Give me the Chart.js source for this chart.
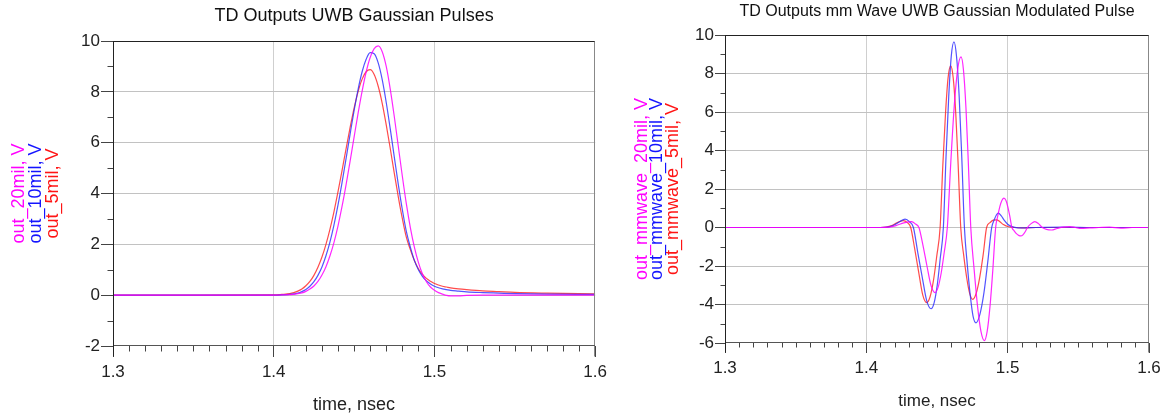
<!DOCTYPE html>
<html>
<head>
<meta charset="utf-8">
<script src="https://cdn.jsdelivr.net/npm/chart.js@4/dist/chart.umd.min.js"></script>
<style>
  html, body { margin: 0; padding: 0; background: #fff; }
  #wrap { position: relative; width: 1167px; height: 416px; overflow: hidden; background: #fff; }
  canvas { position: absolute; top: 0; }
  #pulse { left: 0; }
  #wave { left: 612px; }
</style>
</head>
<body>
<div id="wrap">
  <canvas id="pulse" width="612" height="416"></canvas>
  <canvas id="wave" width="555" height="416"></canvas>
</div>
<script>
// ---------- axes ----------
const timeTicks = [1.3, 1.4, 1.5, 1.6];
const pulseVoltTicks = [-2, 0, 2, 4, 6, 8, 10];
const waveVoltTicks = [-6, -4, -2, 0, 2, 4, 6, 8, 10];

// ---------- UWB Gaussian pulses (time in nsec, volts) ----------
const pulseTime = [1.30, 1.35, 1.40, 1.405, 1.41, 1.4125, 1.415, 1.4175, 1.42, 1.4225, 1.425, 1.4275,
  1.43, 1.4325, 1.435, 1.4375, 1.44, 1.4425, 1.445, 1.4475, 1.45, 1.4525, 1.455, 1.4575,
  1.46, 1.4625, 1.465, 1.4675, 1.47, 1.4725, 1.475, 1.4775, 1.48, 1.4825, 1.485, 1.4875,
  1.49, 1.4925, 1.495, 1.4975, 1.50, 1.5025, 1.505, 1.5075, 1.51, 1.515, 1.52, 1.53,
  1.54, 1.55, 1.57, 1.60];
const out20mil = [0, 0, 0, 0.01, 0.02, 0.03, 0.06, 0.09, 0.15, 0.24, 0.36, 0.54,
  0.79, 1.12, 1.55, 2.08, 2.73, 3.49, 4.34, 5.26, 6.22, 7.16, 8.03, 8.78,
  9.35, 9.70, 9.81, 9.58, 9.00, 8.11, 7.03, 5.86, 4.69, 3.60, 2.66, 1.89,
  1.29, 0.84, 0.53, 0.32, 0.19, 0.10, 0.04, -0.01, -0.03, -0.03, -0.01, 0,
  0, 0, 0, 0];
const out10mil = [0, 0, 0, 0.01, 0.03, 0.05, 0.08, 0.14, 0.22, 0.35, 0.53, 0.78,
  1.11, 1.55, 2.10, 2.77, 3.55, 4.43, 5.37, 6.33, 7.26, 8.10, 8.79, 9.28,
  9.54, 9.50, 9.14, 8.48, 7.58, 6.54, 5.44, 4.36, 3.37, 2.51, 1.89, 1.37,
  1.00, 0.74, 0.56, 0.44, 0.35, 0.29, 0.25, 0.22, 0.19, 0.16, 0.13, 0.10,
  0.08, 0.06, 0.04, 0.03];
const out5mil = [0, 0, 0.01, 0.03, 0.06, 0.10, 0.16, 0.24, 0.37, 0.54, 0.78, 1.10,
  1.50, 2.00, 2.60, 3.29, 4.07, 4.90, 5.76, 6.59, 7.36, 8.01, 8.50, 8.79,
  8.87, 8.68, 8.22, 7.55, 6.70, 5.77, 4.80, 3.87, 3.02, 2.28, 1.79, 1.36,
  1.04, 0.82, 0.66, 0.55, 0.46, 0.40, 0.35, 0.32, 0.29, 0.25, 0.22, 0.17,
  0.14, 0.11, 0.08, 0.05];

// ---------- mm-wave UWB Gaussian modulated pulses ----------
const waveTime20 = [1.30, 1.40, 1.41, 1.416, 1.421, 1.4265, 1.4321, 1.4348, 1.4372,
  1.4400, 1.4429, 1.4457, 1.4486, 1.4508, 1.4530, 1.4551, 1.4573,
  1.4597, 1.4621, 1.4646, 1.4670, 1.4687, 1.4705, 1.4722, 1.4739,
  1.4763, 1.4787, 1.4811, 1.4835, 1.4855, 1.4875, 1.4895, 1.4915,
  1.4930, 1.4945, 1.4960, 1.4974, 1.4988, 1.5002, 1.5016, 1.5030,
  1.5046, 1.5062, 1.5078, 1.5093, 1.5108, 1.5124, 1.5140,
  1.5166, 1.5192, 1.5218, 1.5245, 1.5275, 1.5310, 1.5350, 1.5390,
  1.5440, 1.5480, 1.5520, 1.5580, 1.5645, 1.5720, 1.5800, 1.5880, 1.60];
const outMm20mil = [0, 0, 0, 0.02, 0.1, 0.24, 0.31, 0.18, 0,
  -0.9, -2.0, -3.0, -3.38, -3.1, -2.35, -1.3, 0,
  3.3, 6.2, 8.2, 8.86, 8.2, 6.2, 3.3, 0,
  -2.2, -4.1, -5.4, -5.88, -5.4, -4.1, -2.2, 0,
  0.6, 1.1, 1.42, 1.53, 1.4, 1.05, 0.55, 0,
  -0.17, -0.32, -0.41, -0.44, -0.38, -0.22, 0,
  0.2, 0.31, 0.2, 0, -0.1, -0.13, -0.05, 0.02,
  0.05, 0, -0.05, -0.02, 0, 0.02, -0.03, 0, 0];

const waveTime10 = [1.30, 1.40, 1.41, 1.415, 1.419, 1.4235, 1.4274, 1.4305, 1.4333,
  1.4364, 1.4396, 1.4427, 1.4458, 1.4480, 1.4502, 1.4523, 1.4545,
  1.4564, 1.4583, 1.4601, 1.4620, 1.4638, 1.4657, 1.4675, 1.4694,
  1.4714, 1.4735, 1.4755, 1.4776, 1.4804, 1.4832, 1.4859, 1.4887,
  1.4905, 1.4920, 1.4934, 1.4955, 1.4975, 1.50, 1.5025, 1.505,
  1.51, 1.52, 1.54, 1.56, 1.60];
const outMm10mil = [0, 0, 0, 0.02, 0.1, 0.3, 0.43, 0.3, 0,
  -1.3, -2.6, -3.8, -4.22, -3.9, -2.98, -1.6, 0,
  3.7, 6.8, 8.9, 9.64, 8.9, 6.8, 3.7, 0,
  -1.9, -3.5, -4.6, -4.95, -4.5, -3.4, -1.8, 0,
  0.4, 0.65, 0.75, 0.6, 0.38, 0.17, 0.06, 0.01,
  -0.02, 0, 0.02, 0, 0];

const waveTime5 = [1.30, 1.40, 1.41, 1.414, 1.418, 1.422, 1.4262, 1.4290, 1.4314,
  1.4342, 1.4370, 1.4399, 1.4427, 1.4451, 1.4475, 1.4498, 1.4522,
  1.4541, 1.4560, 1.4578, 1.4597, 1.4615, 1.4633, 1.4650, 1.4668,
  1.4689, 1.4711, 1.4732, 1.4753, 1.4778, 1.4802, 1.4827, 1.4851,
  1.4875, 1.4898, 1.4922, 1.4945, 1.4970, 1.50, 1.505, 1.51, 1.52, 1.60];
const outMm5mil = [0, 0, 0, 0.02, 0.1, 0.26, 0.36, 0.25, 0,
  -1.1, -2.3, -3.5, -3.9, -3.6, -2.75, -1.5, 0,
  3.2, 5.9, 7.75, 8.4, 7.75, 5.9, 3.2, 0,
  -1.45, -2.65, -3.45, -3.73, -3.4, -2.6, -1.4, 0,
  0.25, 0.38, 0.4, 0.3, 0.15, 0.05, 0, -0.02, 0, 0];

// ---------- colours ----------
const MAGENTA = 'rgba(255, 0, 255, 0.85)';
const BLUE = 'rgba(40, 40, 255, 0.8)';
const RED = 'rgba(255, 30, 30, 0.8)';
const FONT = "'Liberation Sans', Arial, sans-serif";

const pts = (xs, ys) => xs.map((x, i) => ({ x: x, y: ys[i] }));

// Frame, minor ticks, title and the stacked coloured y-axis labels
const decorPlugin = {
  id: 'decor',
  afterDraw(chart, args, o) {
    const ctx = chart.ctx;
    const a = chart.chartArea;
    const xs = chart.scales.x, ys = chart.scales.y;
    const L = Math.round(a.left) + 0.5, R = Math.round(a.right) - 0.5;
    const T = Math.round(a.top) + 0.5, B = Math.round(a.bottom) - 0.5;
    ctx.save();
    ctx.lineWidth = 1;
    // minor x ticks every 0.01 nsec
    ctx.strokeStyle = '#444';
    for (let k = 1; k < 30; k++) {
      if (k % 10 === 0) continue;
      const px = Math.round(xs.getPixelForValue(1.3 + k * 0.01)) + 0.5;
      ctx.beginPath(); ctx.moveTo(px, B); ctx.lineTo(px, B + o.minorLen); ctx.stroke();
    }
    // minor y ticks on odd volts
    for (let v = ys.min + 1; v < ys.max; v += 2) {
      const py = Math.round(ys.getPixelForValue(v)) + 0.5;
      ctx.beginPath(); ctx.moveTo(L - o.minorLen, py); ctx.lineTo(L, py); ctx.stroke();
    }
    // frame
    const seg = (x1, y1, x2, y2, c) => { ctx.strokeStyle = c; ctx.beginPath(); ctx.moveTo(x1, y1); ctx.lineTo(x2, y2); ctx.stroke(); };
    seg(L - 0.5, T, R + 0.5, T, '#222');
    seg(R, T, R, B + o.majorLen, '#888');
    seg(L - 0.5, B, R + 0.5, B, '#555');
    seg(L, T - 0.5, L, B + o.majorLen, '#222');
    // title
    ctx.fillStyle = '#111';
    ctx.font = o.titleSize + 'px ' + FONT;
    ctx.textAlign = 'center';
    ctx.textBaseline = 'middle';
    ctx.fillText(o.title, (a.left + a.right) / 2, o.titleY);
    // stacked y-axis labels
    ctx.font = o.yLabelSize + 'px ' + FONT;
    const yc = (a.top + a.bottom) / 2;
    o.yLabels.forEach((lab, i) => {
      ctx.save();
      ctx.translate(o.yLabelX[i], yc);
      ctx.rotate(-Math.PI / 2);
      ctx.fillStyle = lab.color;
      ctx.fillText(lab.text, 0, 0);
      ctx.restore();
    });
    ctx.restore();
  }
};

function makeChart(canvasId, cfg) {
  const gridColor = (c) => (c.tick && (c.tick.value === cfg.yMin || c.tick.value === cfg.yMax)) ? 'rgba(0,0,0,0)' : '#c2c2c2';
  const xGridColor = (c) => (c.tick && (Math.abs(c.tick.value - 1.3) < 1e-6 || Math.abs(c.tick.value - 1.6) < 1e-6)) ? 'rgba(0,0,0,0)' : '#cfcfcf';
  return new Chart(document.getElementById(canvasId), {
    type: 'line',
    data: { datasets: cfg.datasets.map(d => ({
      data: d.data,
      borderColor: d.color,
      borderWidth: 1.2,
      pointRadius: 0,
      fill: false,
      cubicInterpolationMode: 'monotone'
    })) },
    options: {
      responsive: false,
      animation: false,
      devicePixelRatio: 1,
      events: [],
      layout: { padding: { top: cfg.top, right: cfg.right, left: 0, bottom: 0 } },
      plugins: {
        legend: { display: false },
        tooltip: { enabled: false },
        decor: cfg.decor
      },
      scales: {
        x: {
          type: 'linear',
          min: 1.3, max: 1.6,
          afterBuildTicks: s => { s.ticks = timeTicks.map(v => ({ value: v })); },
          afterFit: s => { s.height = cfg.xHeight; },
          border: { display: false },
          grid: { color: xGridColor, lineWidth: 1, tickLength: cfg.xTickLen, tickColor: '#444' },
          ticks: { autoSkip: false, maxRotation: 0, padding: cfg.xTickPad, color: '#222',
                   font: { family: FONT, size: cfg.tickSize }, callback: v => Number(v).toFixed(1) },
          title: { display: true, text: 'time, nsec', color: '#222',
                   font: { family: FONT, size: cfg.xTitleSize }, padding: { top: 0, bottom: cfg.xTitlePad } }
        },
        y: {
          type: 'linear',
          min: cfg.yMin, max: cfg.yMax,
          afterBuildTicks: s => { s.ticks = cfg.yTicks.map(v => ({ value: v })); },
          afterFit: s => { s.width = cfg.yWidth; },
          border: { display: false },
          grid: { color: gridColor, lineWidth: 1, tickLength: cfg.yTickLen, tickColor: '#444' },
          ticks: { padding: 1, color: '#222', font: { family: FONT, size: cfg.tickSize },
                   callback: v => String(v) }
        }
      }
    },
    plugins: [decorPlugin]
  });
}

makeChart('pulse', {
  top: 41, right: 16, xHeight: 70, yWidth: 113,
  yMin: -2, yMax: 10, yTicks: pulseVoltTicks,
  xTickLen: 11, yTickLen: 12, xTickPad: 5, tickSize: 17, xTitleSize: 18, xTitlePad: 0,
  datasets: [
    { data: pts(pulseTime, out20mil), color: MAGENTA },
    { data: pts(pulseTime, out10mil), color: BLUE },
    { data: pts(pulseTime, out5mil), color: RED }
  ],
  decor: {
    title: 'TD Outputs UWB Gaussian Pulses', titleSize: 18, titleY: 16,
    minorLen: 6, majorLen: 11,
    yLabelSize: 18, yLabelX: [19, 36, 53],
    yLabels: [
      { text: 'out_20mil, V', color: '#ff00ff' },
      { text: 'out_10mil, V', color: '#1414ff' },
      { text: 'out_5mil, V', color: '#ff1414' }
    ]
  }
});

makeChart('wave', {
  top: 35, right: 18, xHeight: 73, yWidth: 113,
  yMin: -6, yMax: 10, yTicks: waveVoltTicks,
  xTickLen: 10, yTickLen: 10, xTickPad: 5, tickSize: 17, xTitleSize: 17, xTitlePad: 4,
  datasets: [
    { data: pts(waveTime20, outMm20mil), color: MAGENTA },
    { data: pts(waveTime10, outMm10mil), color: BLUE },
    { data: pts(waveTime5, outMm5mil), color: RED }
  ],
  decor: {
    title: 'TD Outputs mm Wave UWB Gaussian Modulated Pulse', titleSize: 16, titleY: 12,
    minorLen: 5, majorLen: 10,
    yLabelSize: 18, yLabelX: [30, 45, 61],
    yLabels: [
      { text: 'out_mmwave_20mil, V', color: '#ff00ff' },
      { text: 'out_mmwave_10mil, V', color: '#1414ff' },
      { text: 'out_mmwave_5mil, V', color: '#ff1414' }
    ]
  }
});
</script>
</body>
</html>
